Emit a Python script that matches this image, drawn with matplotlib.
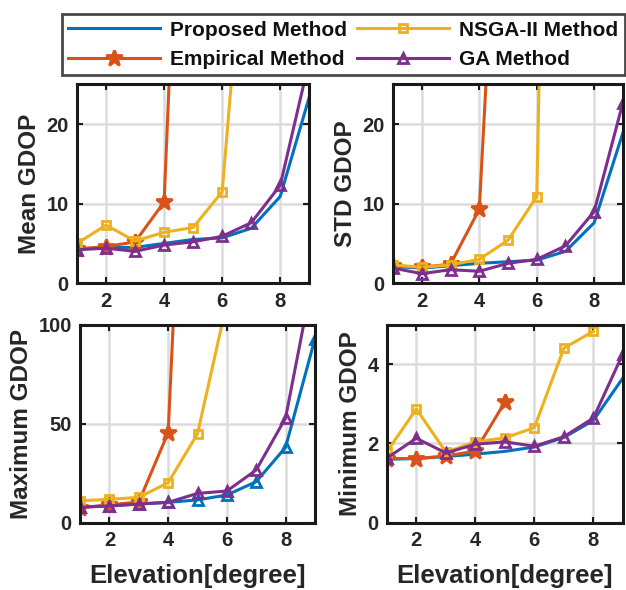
import matplotlib
matplotlib.use("Agg")
import matplotlib.pyplot as plt
import numpy as np

plt.rcParams["font.family"] = ["Liberation Sans", "DejaVu Sans"]
plt.rcParams["font.weight"] = "bold"

# ---------------------------------------------------------------------------
# Data; NaN = no value
# ---------------------------------------------------------------------------
elevation = [1, 2, 3, 4, 5, 6, 7, 8, 9]
nan = np.nan

mean_proposed = [4.3, 4.5, 4.5, 5.0, 5.5, 5.7, 6.9, 10.9, 23.4]
mean_empirical = [4.3, 4.6, 5.2, 10.2, 97, nan, nan, nan, nan]
mean_nsga = [5.0, 7.3, 5.3, 6.4, 7.0, 11.5, 55, nan, nan]
mean_ga = [4.2, 4.4, 4.0, 4.8, 5.2, 5.9, 7.6, 12.3, 28]

std_proposed = [2.1, 1.9, 2.2, 2.5, 2.7, 2.9, 4.0, 7.6, 18.9]
std_empirical = [2.2, 2.0, 2.4, 9.3, 77, nan, nan, nan, nan]
std_nsga = [2.3, 2.0, 2.3, 3.0, 5.4, 10.9, 186, nan, nan]
std_ga = [1.9, 1.2, 1.7, 1.5, 2.5, 3.0, 4.7, 9.0, 22.7]

max_proposed = [8.0, 8.5, 9.5, 10.3, 11.5, 14.0, 20.7, 38.0, 92.7]
max_empirical = [7.5, 9.0, 10.5, 45.5, 365, nan, nan, nan, nan]
max_nsga = [11.1, 11.8, 12.8, 20.2, 44.9, 111, nan, nan, nan]
max_ga = [7.8, 8.5, 9.4, 10.3, 14.8, 16.0, 26.6, 52.8, 129]

min_proposed = [1.60, 1.62, 1.67, 1.73, 1.80, 1.91, 2.15, 2.58, 3.65]
min_empirical = [1.62, 1.62, 1.68, 1.81, 3.04, nan, nan, nan, nan]
min_nsga = [1.79, 2.87, 1.78, 2.04, 2.14, 2.40, 4.40, 4.83, nan]
min_ga = [1.63, 2.13, 1.76, 1.98, 2.04, 1.93, 2.17, 2.64, 4.26]

labels = ["Proposed Method", "Empirical Method", "NSGA-II Method", "GA Method"]
colors = ["#0072BD", "#D95319", "#EDB120", "#7E2F8E"]
TEXT = "#262626"

panels = [
    ("Mean GDOP", [mean_proposed, mean_empirical, mean_nsga, mean_ga], 25, [0, 10, 20], False),
    ("STD GDOP", [std_proposed, std_empirical, std_nsga, std_ga], 25, [0, 10, 20], False),
    ("Maximum GDOP", [max_proposed, max_empirical, max_nsga, max_ga], 100, [0, 50, 100], True),
    ("Minimum GDOP", [min_proposed, min_empirical, min_nsga, min_ga], 5, [0, 2, 4], False),
]
rects = [
    [0.123, 0.520, 0.371, 0.337],
    [0.628, 0.520, 0.367, 0.337],
    [0.128, 0.114, 0.375, 0.336],
    [0.618, 0.114, 0.377, 0.336],
]
marker_size = {"*": 12, "s": 6, "^": 7.5}

fig = plt.figure(figsize=(6.26, 5.9), dpi=100)

handles = []
for i, ((ylabel, series, ytop, yticks, blue_markers), rect) in enumerate(zip(panels, rects)):
    ax = fig.add_axes(rect)
    markers = ["^" if blue_markers else None, "*", "s", "^"]
    for j, (vals, c, m) in enumerate(zip(series, colors, markers)):
        face = c if m == "*" else "none"
        ms = marker_size.get(m, 0)
        (ln,) = ax.plot(elevation, vals, color=c, lw=2.2, marker=m, ms=ms,
                        mfc=face, mec=c, mew=2.0, label=labels[j])
        if i == 0:
            handles.append(ln)
    ax.set_xlim(1, 9)
    ax.set_ylim(0, ytop)
    ax.set_xticks([2, 4, 6, 8])
    ax.set_yticks(yticks)
    ax.grid(True, color="#dcdcdc", lw=1.8)
    ax.set_axisbelow(True)
    ax.tick_params(direction="in", length=4, width=1.5, top=True, right=True,
                   labelsize=14.5, colors="#1a1a1a", labelcolor=TEXT, pad=6)
    for lab in ax.get_xticklabels() + ax.get_yticklabels():
        lab.set_fontweight("bold")
    for s in ax.spines.values():
        s.set_linewidth(2.2)
        s.set_color("#1a1a1a")
    ax.set_ylabel(ylabel, fontsize=17.5, fontweight="bold", color=TEXT, labelpad=4)
    if i >= 2:
        ax.set_xlabel("Elevation[degree]", fontsize=18.5, fontweight="bold", color=TEXT, labelpad=10)

leg = fig.legend(handles, labels, ncol=2, loc="center", mode="expand",
                 bbox_to_anchor=(0.099, 0.868, 0.899, 0.112),
                 prop={"size": 15, "weight": "bold"}, handlelength=4.4,
                 frameon=True, fancybox=False, edgecolor="#1a1a1a",
                 columnspacing=0.8, labelspacing=0.5, borderpad=0.3,
                 handletextpad=0.5, borderaxespad=0)
leg.get_frame().set_linewidth(2.0)
for t in leg.get_texts():
    t.set_color("#111111")

fig.savefig("out.png", dpi=100)
